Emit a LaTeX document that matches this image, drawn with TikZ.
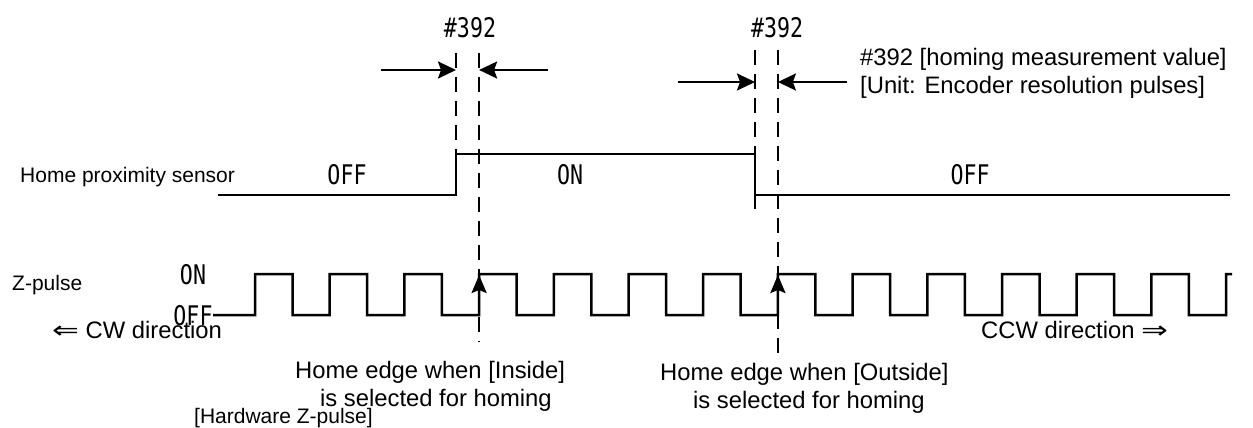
\documentclass[tikz,border=0pt]{standalone}
\usepackage{fontspec}
\setmainfont{Liberation Sans}
\newfontfamily\condfont{DejaVu Sans Mono}
\newfontfamily\symfont{DejaVu Sans}
\usetikzlibrary{arrows.meta}
\newcommand{\stt}[1]{\scalebox{0.8}[1]{\condfont\fontsize{27}{30}\selectfont #1}}
\newcommand{\dirarrow}[1]{\scalebox{1.35}[1]{\symfont #1}}
\begin{document}
\begin{tikzpicture}[x=1pt,y=-1pt,
  wave/.style={line width=2.5pt, line join=miter},
  guide/.style={line width=2pt, dash pattern=on 15pt off 9pt},
  dimarrow/.style={line width=2.3pt, -{Stealth[length=18pt,width=17pt,inset=3pt]}},
  edgearrow/.style={line width=2.5pt, -{Stealth[length=18pt,width=15pt,inset=3pt]}},
  lbl/.style={inner sep=0pt, anchor=base west, font=\fontsize{21}{25}\selectfont},
  big/.style={inner sep=0pt, anchor=base west, font=\fontsize{23.8}{28}\selectfont},
  st/.style={inner sep=0pt, anchor=center}
]
\useasboundingbox (0,0) rectangle (1253,428);

% ---- signal labels
\node[lbl] (hps) at (20,182) {Home proximity sensor};
\node[lbl] (zp) at (12,290) {Z-pulse};
\node[st] (soff1) at (347,175) {\stt{OFF}};
\node[st] (son) at (570,175) {\stt{ON}};
\node[st] (soff2) at (970,175) {\stt{OFF}};
\node[st] (zon) at (193,275) {\stt{ON}};
\node[st] (zoff) at (193,316) {\stt{OFF}};
\node[st] (m1) at (470,28) {\stt{\#392}};
\node[st] (m2) at (777,28) {\stt{\#392}};

\node[big] (cw) at (52,338) {\dirarrow{⇐} CW direction};
\node[big] (ccw) at (981,338) {CCW direction \dirarrow{⇒}};
\node[big] (in1) at (295,378) {Home edge when [Inside]};
\node[big] (in2) at (320,406) {is selected for homing};
\node[big] (out1) at (660,380) {Home edge when [Outside]};
\node[big] (out2) at (693,408) {is selected for homing};
\node[lbl] (hw) at (194,423) {[Hardware Z-pulse]};
\node[big] (note1) at (860,66) {\#392 [homing measurement value]};
\node[big] (note2) at (860,93) {[Unit: Encoder resolution pulses]};

% ---- home proximity sensor waveform
\draw[wave] (218,195) -- (456,195) -- (456,154) -- (755,154) -- (755,195) -- (1230,195);

% ---- Z-pulse waveform
\draw[wave] (213,315) -- (255,315)
  foreach \k in {0,...,12} {
    -- ({255+74.7*\k},274) -- ({292.5+74.7*\k},274)
    -- ({292.5+74.7*\k},315) -- ({329.7+74.7*\k},315) }
  -- (1226.1,274) -- (1232,274);

% ---- guide lines
\coordinate (g1t) at (456,53);   \coordinate (g1b) at (456,154);
\coordinate (g2t) at (479.1,53); \coordinate (g2b) at (479.1,342);
\coordinate (g3t) at (755,50);   \coordinate (g3b) at (755,213);
\coordinate (g4t) at (777.9,50); \coordinate (g4b) at (777.9,355);
\draw[guide] (g1t) -- (g1b);
\draw[guide] (g2t) -- (g2b);
\draw[guide] (g3t) -- (g3b);
\draw[guide] (g4t) -- (g4b);

% ---- dimension arrows
\coordinate (a1s) at (381,70);  \coordinate (a1e) at (456,70);
\coordinate (a2s) at (548,70);  \coordinate (a2e) at (479.1,70);
\coordinate (a3s) at (678,82);  \coordinate (a3e) at (755,82);
\coordinate (a4s) at (847,82);  \coordinate (a4e) at (777.9,82);
\draw[dimarrow] (a1s) -- (a1e);
\draw[dimarrow] (a2s) -- (a2e);
\draw[dimarrow] (a3s) -- (a3e);
\draw[dimarrow] (a4s) -- (a4e);

% ---- edge arrows
\coordinate (e1s) at (479.1,315); \coordinate (e1e) at (479.1,275);
\coordinate (e2s) at (777.9,315); \coordinate (e2e) at (777.9,275);
\draw[edgearrow] (e1s) -- (e1e);
\draw[edgearrow] (e2s) -- (e2e);
\end{tikzpicture}
\end{document}
